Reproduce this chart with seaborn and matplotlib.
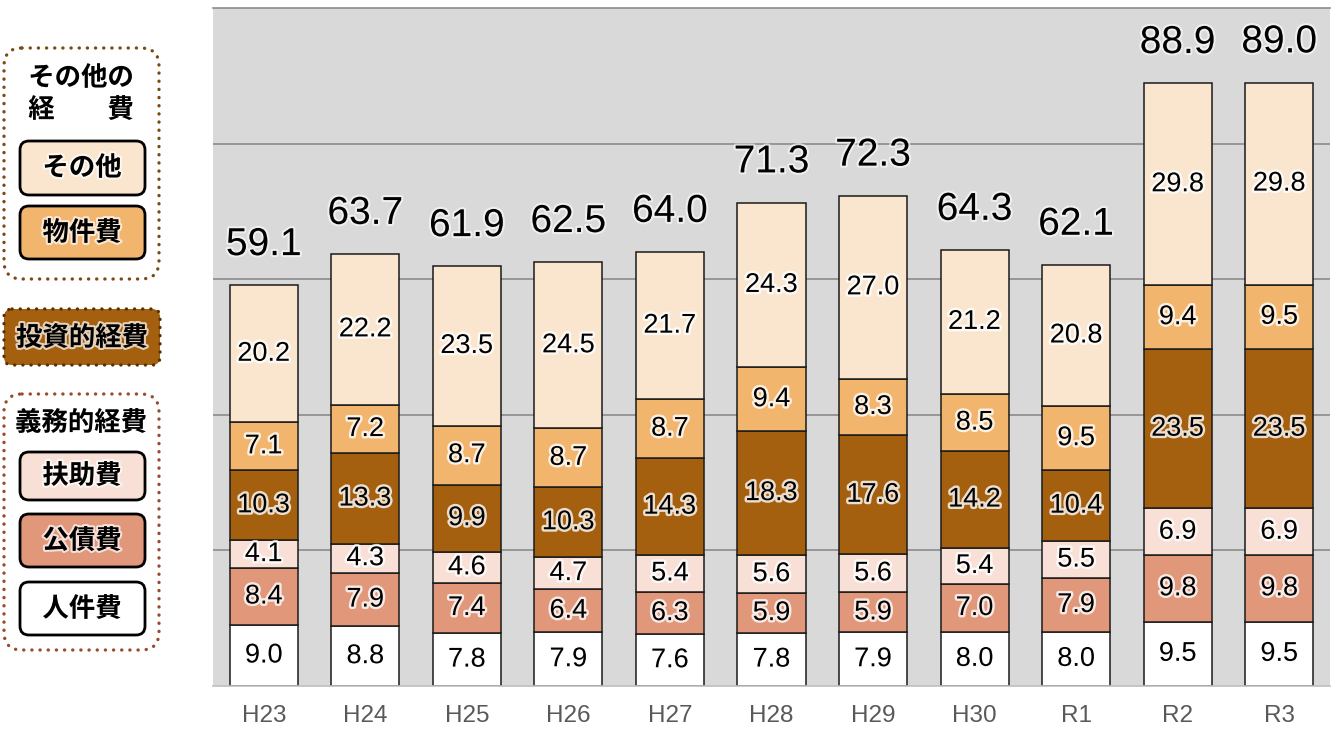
import matplotlib
matplotlib.use("Agg")
import matplotlib.pyplot as plt
import matplotlib.patheffects as pe
from matplotlib.patches import FancyBboxPatch
import seaborn as sns
import pandas as pd
import numpy as np

# データ（下から積み上げ）
years = ["H23", "H24", "H25", "H26", "H27", "H28", "H29", "H30", "R1", "R2", "R3"]
jinkenhi = [9.0, 8.8, 7.8, 7.9, 7.6, 7.8, 7.9, 8.0, 8.0, 9.5, 9.5]
kosaihi = [8.4, 7.9, 7.4, 6.4, 6.3, 5.9, 5.9, 7.0, 7.9, 9.8, 9.8]
fujohi = [4.1, 4.3, 4.6, 4.7, 5.4, 5.6, 5.6, 5.4, 5.5, 6.9, 6.9]
toshiteki = [10.3, 13.3, 9.9, 10.3, 14.3, 18.3, 17.6, 14.2, 10.4, 23.5, 23.5]
bukkenhi = [7.1, 7.2, 8.7, 8.7, 8.7, 9.4, 8.3, 8.5, 9.5, 9.4, 9.5]
sonota = [20.2, 22.2, 23.5, 24.5, 21.7, 24.3, 27.0, 21.2, 20.8, 29.8, 29.8]
totals = [59.1, 63.7, 61.9, 62.5, 64.0, 71.3, 72.3, 64.3, 62.1, 88.9, 89.0]

layers = ["人件費", "公債費", "扶助費", "投資的経費", "物件費", "その他"]
colors = {
    "人件費": "#FFFFFF",
    "公債費": "#E0977A",
    "扶助費": "#F8E0D6",
    "投資的経費": "#A5600F",
    "物件費": "#F2B56E",
    "その他": "#FAE6CF",
}

df = pd.DataFrame({"year": years, "人件費": jinkenhi, "公債費": kosaihi, "扶助費": fujohi,
                   "投資的経費": toshiteki, "物件費": bukkenhi, "その他": sonota})

sns.set_theme(style="white")
num_font = ["Liberation Sans Narrow", "Liberation Sans", "DejaVu Sans"]
jp_font = ["Noto Sans CJK JP", "DejaVu Sans"]
plt.rcParams["font.family"] = num_font

fig = plt.figure(figsize=(13.35, 7.29), dpi=100)
ax = fig.add_axes([213 / 1335, 43 / 729, 1117 / 1335, 678 / 729])
ax.set_facecolor("#D9D9D9")

glow = [pe.withStroke(linewidth=3.5, foreground="white", alpha=0.8)]

bottom = np.zeros(len(years))
for name in layers:
    sns.barplot(data=df, x="year", y=name, order=years, color=colors[name],
                bottom=bottom, width=0.67, errorbar=None, saturation=1,
                edgecolor="#1A1A1A", linewidth=1.1, ax=ax)
    vals = df[name].to_numpy()
    for i, v in enumerate(vals):
        ax.text(i, bottom[i] + v / 2, f"{v:.1f}", ha="center", va="center",
                fontsize=19.5, color="black", path_effects=glow, zorder=5)
    bottom = bottom + vals

for i, t in enumerate(totals):
    ax.annotate(f"{t:.1f}", (i, bottom[i]), xytext=(0, 16), textcoords="offset points",
                ha="center", va="bottom", fontsize=28, color="black",
                path_effects=[pe.withStroke(linewidth=3, foreground="white", alpha=0.6)])

ax.set_ylim(0, 100)
ax.set_xlim(-0.5, len(years) - 0.5)
ax.set_yticks([20, 40, 60, 80])
ax.set_yticklabels([])
ax.tick_params(axis="y", length=0)
ax.yaxis.grid(True, color="#8C8C8C", linewidth=1.2)
ax.set_axisbelow(True)
ax.set_xlabel("")
ax.set_ylabel("")

ax.set_xticks(np.arange(len(years)))
ax.set_xticklabels(years, fontsize=17.5, color="#595959")
ax.tick_params(axis="x", length=0, pad=14)
ax.set_xticks(np.arange(len(years) + 1) - 0.5, minor=True)
ax.tick_params(axis="x", which="minor", length=7, width=1.2, color="#A6A6A6")

for s in ["left", "right"]:
    ax.spines[s].set_visible(False)
ax.spines["top"].set_color("#8C8C8C")
ax.spines["top"].set_linewidth(1.2)
ax.spines["bottom"].set_color("#BFBFBF")
ax.spines["bottom"].set_linewidth(1.2)

# 左側の凡例（ピクセル座標）
lg = fig.add_axes([0, 0, 1, 1], zorder=10)
lg.set_xlim(0, 1335)
lg.set_ylim(729, 0)
lg.axis("off")
lg.patch.set_alpha(0)


def rbox(x0, y0, x1, y1, fc, ec, lw, dotted=False, r=14):
    p = FancyBboxPatch((x0 + r, y0 + r), x1 - x0 - 2 * r, y1 - y0 - 2 * r,
                       boxstyle=f"round,pad={r}", facecolor=fc, edgecolor=ec, linewidth=lw)
    if dotted:
        p.set_linestyle((0, (0.05, 2.4)))
        p.set_capstyle("round")
    lg.add_patch(p)


def label(x, y, s, size=19):
    lg.text(x, y, s, ha="center", va="center", fontsize=size, fontweight="bold",
            family=jp_font, color="black",
            path_effects=[pe.withStroke(linewidth=3, foreground="white", alpha=0.7)])


# その他の経費
rbox(4, 48, 159, 279, "none", "#7A4A14", 2.4, dotted=True, r=18)
label(81, 78, "その他の")
label(81, 110, "経　　費")
rbox(20, 141, 145, 195, colors["その他"], "black", 2.0, r=9)
label(82, 168, "その他")
rbox(20, 206, 145, 259, colors["物件費"], "black", 2.0, r=9)
label(82, 233, "物件費")

# 投資的経費
rbox(4, 309, 160, 365, colors["投資的経費"], "#5A3208", 2.4, dotted=True, r=8)
label(82, 338, "投資的経費")

# 義務的経費
rbox(4, 394, 159, 650, "none", "#9A4A2E", 2.4, dotted=True, r=18)
label(81, 423, "義務的経費")
rbox(20, 452, 145, 500, colors["扶助費"], "black", 2.0, r=9)
label(82, 476, "扶助費")
rbox(20, 514, 145, 567, colors["公債費"], "black", 2.0, r=9)
label(82, 541, "公債費")
rbox(20, 582, 145, 635, colors["人件費"], "black", 2.0, r=9)
label(82, 609, "人件費")

fig.savefig("out.png", dpi=100)
